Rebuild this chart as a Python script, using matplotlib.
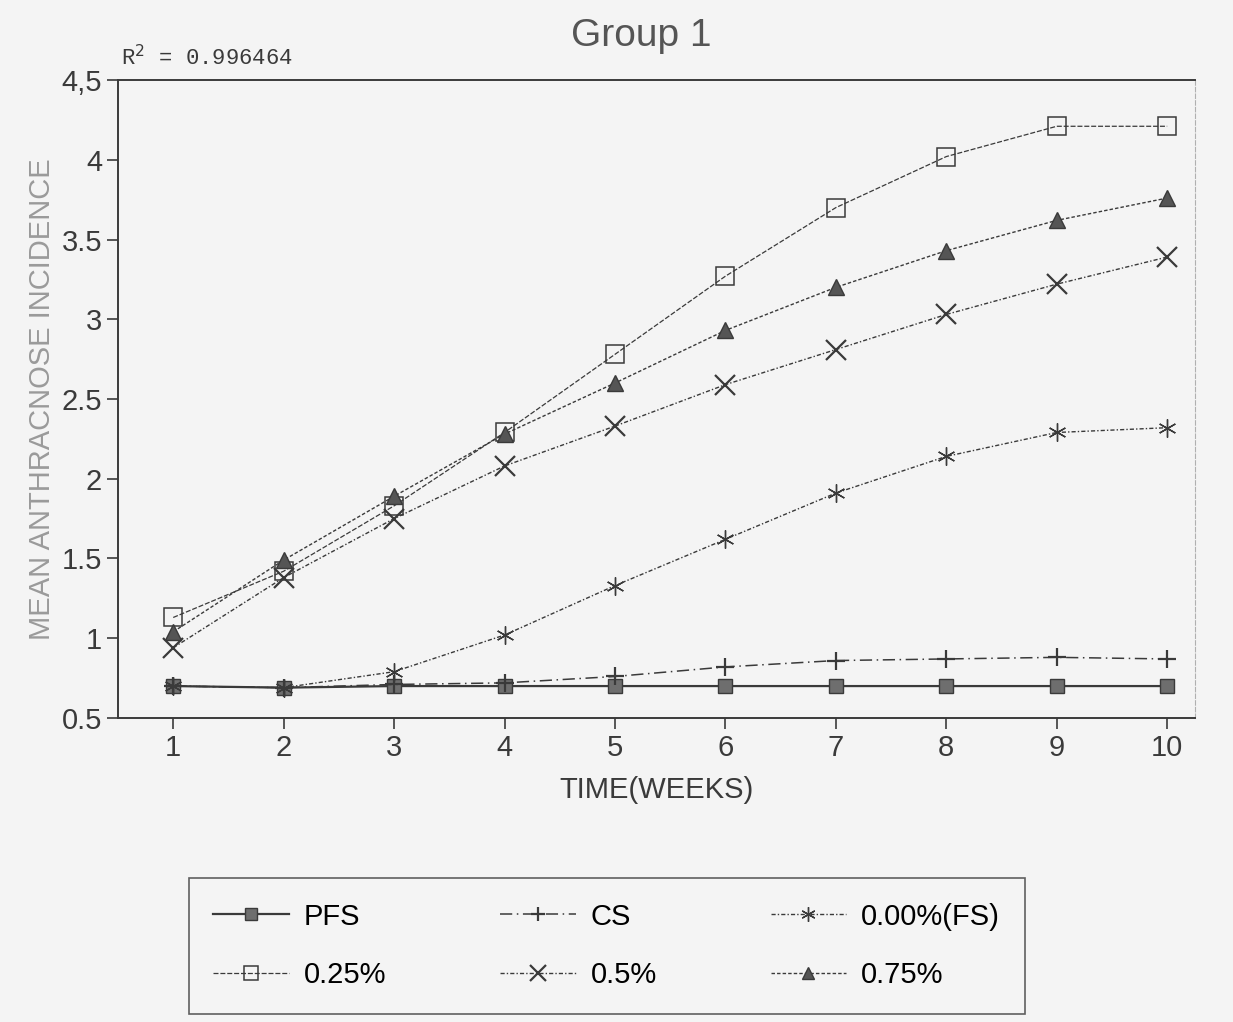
import numpy as np
import matplotlib
matplotlib.use('Agg')
import matplotlib.pyplot as plt

plt.rcParams['font.family'] = ['Liberation Sans', 'DejaVu Sans']

# data
weeks = [1, 2, 3, 4, 5, 6, 7, 8, 9, 10]
pfs = [0.70, 0.69, 0.70, 0.70, 0.70, 0.70, 0.70, 0.70, 0.70, 0.70]
cs = [0.70, 0.69, 0.71, 0.72, 0.76, 0.82, 0.86, 0.87, 0.88, 0.87]
fs = [0.70, 0.69, 0.79, 1.02, 1.33, 1.62, 1.91, 2.14, 2.29, 2.32]
p025 = [1.13, 1.42, 1.83, 2.29, 2.78, 3.27, 3.70, 4.02, 4.21, 4.21]
p05 = [0.94, 1.38, 1.75, 2.08, 2.33, 2.59, 2.81, 3.03, 3.22, 3.39]
p075 = [1.04, 1.49, 1.89, 2.28, 2.60, 2.93, 3.20, 3.43, 3.62, 3.76]
labels = ['PFS', 'CS', '0.00%(FS)', '0.25%', '0.5%', '0.75%']

ink = '#3a3a3a'
fig = plt.figure(figsize=(12.33, 10.22), dpi=100)
fig.patch.set_facecolor('#f4f4f4')
ax = fig.add_axes([0.0957, 0.2975, 0.8733, 0.6242])
ax.set_facecolor('#f4f4f4')

h_pfs, = ax.plot(weeks, pfs, color=ink, lw=1.6, marker='s', ms=10, mfc='#6e6e6e', mec=ink)
h_cs, = ax.plot(weeks, cs, color=ink, lw=1.1, ls=(0, (8, 3, 1, 3)), marker='+', ms=13, mew=1.6)
h_fs, = ax.plot(weeks, fs, color=ink, lw=1.0, ls=(0, (3, 1.5, 1, 1.5)), marker=(6, 2, 0), ms=13, mew=1.0)
h_25, = ax.plot(weeks, p025, color=ink, lw=0.9, ls=(0, (4, 1.5)), marker='s', ms=13, mfc='none', mec=ink, mew=1.1)
h_05, = ax.plot(weeks, p05, color=ink, lw=1.0, ls=(0, (3, 1.5, 1, 1.5)), marker='x', ms=14, mew=1.6)
h_75, = ax.plot(weeks, p075, color=ink, lw=1.0, ls=(0, (2.5, 1.5)), marker='^', ms=11, mfc='#555555', mec=ink)

ax.set_xlim(0.5, 10.25)
ax.set_ylim(0.5, 4.5)
ax.set_xticks(weeks)
ax.set_yticks([0.5, 1, 1.5, 2, 2.5, 3, 3.5, 4, 4.5])
ax.set_yticklabels(['0.5', '1', '1.5', '2', '2.5', '3', '3.5', '4', '4,5'])
ax.tick_params(axis='both', labelsize=21, colors=ink, length=8, width=1.2, direction='out')

for s in ['top', 'bottom', 'left']:
    ax.spines[s].set_color(ink)
    ax.spines[s].set_linewidth(1.4)
ax.spines['left'].set_linestyle((0, (6, 1)))
ax.spines['right'].set_color('#b0b0b0')
ax.spines['right'].set_linestyle((0, (4, 2)))

ax.set_xlabel('TIME(WEEKS)', fontsize=21, color=ink, labelpad=10)
ax.set_ylabel('MEAN ANTHRACNOSE INCIDENCE', fontsize=21, color='#9a9a9a', labelpad=4)
fig.text(0.52, 0.965, 'Group 1', fontsize=28, color='#555555', ha='center', va='center')
fig.text(0.098, 0.944, r'R$^2$ = 0.996464', fontsize=16, family='Liberation Mono',
         color=ink, va='center')

order = [h_pfs, h_25, h_cs, h_05, h_fs, h_75]
order_lab = [labels[0], labels[3], labels[1], labels[4], labels[2], labels[5]]
leg = fig.legend(order, order_lab, ncol=3, loc='upper left', bbox_to_anchor=(0.153, 0.141),
                 borderaxespad=0, fontsize=21, frameon=True, fancybox=False, edgecolor=ink,
                 facecolor='#f4f4f4', handlelength=2.6, handletextpad=0.5, columnspacing=3.9,
                 labelspacing=1.05, borderpad=0.85, markerscale=0.8)
leg.get_frame().set_linewidth(1.2)

plt.savefig('out.png', dpi=100, facecolor=fig.get_facecolor())
